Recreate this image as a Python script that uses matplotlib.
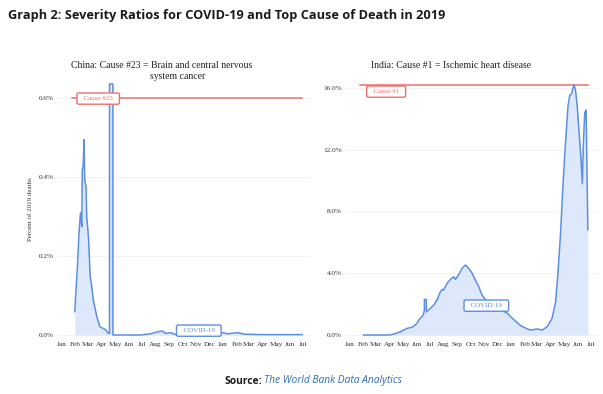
import matplotlib
matplotlib.use("Agg")
import matplotlib.pyplot as plt
import pandas as pd

# month ticks Jan 2020 .. Jul 2021, x in days since 2020-01-01
months = pd.date_range("2020-01-01", "2021-07-01", freq="MS")
month_days = [(m - months[0]).days for m in months]
month_labels = [m.strftime("%b") for m in months]

# China: 7-day average covid deaths, percent of 2019 deaths
china_day = [30, 36, 40, 43, 46, 47, 49, 51, 52.5, 55.5, 57, 61, 65, 68.5, 72, 80, 87, 99,
             106.4, 108.7, 108.7, 116.4, 116.4, 140, 179, 202, 217, 228, 236, 247, 259,
             290, 316, 340, 365, 377, 400, 415, 453, 498, 545]
china_val = [0.059, 0.173, 0.266, 0.309, 0.274, 0.418, 0.426, 0.494, 0.392, 0.375, 0.30,
             0.249, 0.148, 0.122, 0.089, 0.046, 0.021, 0.014, 0.004, 0.004, 0.635, 0.635,
             0.0, 0.0, 0.0, 0.003, 0.008, 0.010, 0.004, 0.006, 0.001, 0.002, 0.001, 0.002,
             0.006, 0.003, 0.006, 0.002, 0.001, 0.001, 0.001]
china_cause = 0.6

# India
india_day = [32, 92, 104, 115, 130, 142, 153, 157, 167, 169.6, 169.6, 174, 174, 183, 191,
             198, 206, 210, 213, 221, 229, 236, 240, 247, 255, 263, 270, 278, 285, 293, 300,
             308, 319, 331, 342, 356, 369, 376, 388, 403, 410, 425, 437, 448, 459, 467, 472,
             478, 484, 490, 495, 499, 503, 506, 508.5, 512, 516, 520, 524, 527.5, 530, 533,
             536, 540]
india_val = [0.0, 0.0, 0.1, 0.2, 0.43, 0.5, 0.75, 0.97, 1.29, 1.6, 2.3, 2.3, 1.5, 1.72, 1.94,
             2.26, 2.8, 2.95, 2.9, 3.34, 3.6, 3.77, 3.6, 3.88, 4.31, 4.53, 4.31, 3.99, 3.56,
             3.12, 2.59, 2.3, 2.0, 1.8, 1.6, 1.45, 1.08, 0.9, 0.6, 0.39, 0.32, 0.39, 0.32,
             0.54, 1.08, 2.15, 3.9, 6.5, 9.9, 12.7, 14.8, 15.5, 15.6, 15.96, 16.2, 15.85,
             14.8, 13.15, 11.6, 9.8, 12.5, 14.4, 14.55, 6.8]
india_cause = 16.2

blue = "#5b8fe3"
fill = "#dde8fb"
red = "#ef6f6c"
serif = "Liberation Serif"

W, H = 603, 394
fig = plt.figure(figsize=(W / 100, H / 100), dpi=100)


def px(x0, y0, x1, y1):
    return [x0 / W, 1 - y1 / H, (x1 - x0) / W, (y1 - y0) / H]


def label(ax, x, y, s, c):
    # spaces widen the box, small pad keeps it flat
    ax.text(x, y, "  " + s + "  ", color=c, fontsize=5, family=serif, ha="center", va="center",
            bbox=dict(boxstyle="round,pad=0.45,rounding_size=0.25", fc="white", ec=c, lw=1))


def panel(ax, day, val, cause, yticks, ylim, fmt):
    ax.fill_between(day, 0, val, color=fill, lw=0, zorder=1)
    ax.plot(day, val, color=blue, lw=1.1, zorder=3)
    ax.set_xlim(-8, 563)
    ax.set_ylim(*ylim)
    ax.set_xticks(month_days)
    ax.set_xticklabels(month_labels, fontsize=5.2, family=serif, color="#333333")
    ax.set_yticks(yticks)
    ax.set_yticklabels([fmt % t for t in yticks], fontsize=5.2, family=serif, color="#333333")
    ax.tick_params(length=0, pad=3)
    ax.grid(axis="y", color="#f0f0f0", lw=0.6)
    ax.set_axisbelow(True)
    for s in ax.spines.values():
        s.set_visible(False)


ax1 = fig.add_axes(px(58, 80, 310, 338))
panel(ax1, china_day, china_val, china_cause, [0, 0.2, 0.4, 0.6], (-0.0076, 0.645), "%.1f%%")
ax1.plot([23, 545], [china_cause, china_cause], color=red, lw=1.1, zorder=2)
label(ax1, 83, 0.598, "Cause #23", red)
label(ax1, 311, 0.011, "COVID-19", blue)
ax1.set_ylabel("Percent of 2019 deaths", fontsize=5, family=serif, color="#333333", labelpad=4)

ax2 = fig.add_axes(px(346, 80, 598, 338))
panel(ax2, india_day, india_val, india_cause, [0, 4, 8, 12, 16], (-0.194, 16.5), "%.1f%%")
ax2.plot([24, 540], [india_cause, india_cause], color=red, lw=1.1, zorder=2)
label(ax2, 83, 15.75, "Cause #1", red)
label(ax2, 310, 1.9, "COVID-19", blue)

fig.text(161.7 / W, 1 - 65 / H, "China: Cause #23 = Brain and central nervous",
         fontsize=7, family=serif, ha="center", va="center", color="#222222")
fig.text(177.7 / W, 1 - 76.5 / H, "system cancer",
         fontsize=7, family=serif, ha="center", va="center", color="#222222")
fig.text(451 / W, 1 - 65 / H, "India: Cause #1 = Ischemic heart disease",
         fontsize=7, family=serif, ha="center", va="center", color="#222222")

fig.text(8 / W, 1 - 16 / H, "Graph 2: Severity Ratios for COVID-19 and Top Cause of Death in 2019",
         fontsize=9.2, family="Open Sans", weight="bold", ha="left", va="center", color="#1a1a1a")
fig.text(262 / W, 1 - 381 / H, "Source:", fontsize=7.4, family="Open Sans", weight="bold",
         ha="right", va="center", color="#1a1a1a")
fig.text(264 / W, 1 - 381 / H, "The World Bank Data Analytics", fontsize=7.4, family="Open Sans",
         style="italic", ha="left", va="center", color="#2f6db5")

fig.savefig("out.png", dpi=100)
